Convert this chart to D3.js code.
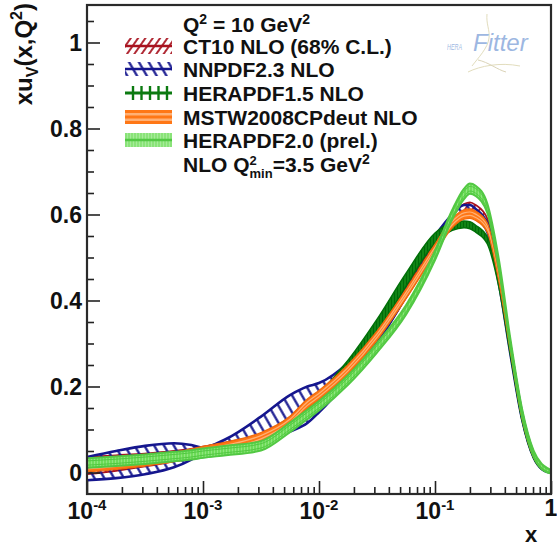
<!DOCTYPE html>
<html><head><meta charset="utf-8">
<script src="https://cdn.jsdelivr.net/npm/d3@7"></script>
<style>
body{margin:0;background:#fff;}
svg text{font-family:"Liberation Sans",Arial,Helvetica,sans-serif;font-weight:bold;fill:#111;}
</style></head><body>
<svg id="c" width="557" height="547"></svg>
<script>
// ---------------- data ----------------
const xValues = [0.0001, 0.000178, 0.000316, 0.000562, 0.000794, 0.001, 0.00158, 0.00316, 0.00562, 0.00794, 0.01, 0.0178, 0.0316, 0.0562, 0.1, 0.141, 0.178, 0.2, 0.224, 0.282, 0.355, 0.447, 0.562, 0.708, 0.832, 0.933, 1];

const ct10Mid = [0.016, 0.022, 0.029, 0.038, 0.045, 0.05, 0.06, 0.08, 0.118, 0.155, 0.175, 0.236, 0.315, 0.418, 0.525, 0.59, 0.612, 0.616, 0.61, 0.58, 0.46, 0.293, 0.135, 0.041, 0.011, 0.003, 0];
const ct10Err = [0.02, 0.018, 0.015, 0.012, 0.01, 0.01, 0.01, 0.01, 0.011, 0.012, 0.012, 0.012, 0.012, 0.012, 0.012, 0.012, 0.012, 0.012, 0.012, 0.011, 0.01, 0.008, 0.006, 0.004, 0.002, 0.001, 0];

const nnpdfMid = [0.009, 0.0185, 0.029, 0.04, 0.047, 0.052, 0.0625, 0.099, 0.1375, 0.1575, 0.174, 0.235, 0.315, 0.425, 0.5375, 0.59, 0.611, 0.611, 0.603, 0.57, 0.45, 0.285, 0.1325, 0.04, 0.011, 0.003, 0];
const nnpdfErr = [0.027, 0.0315, 0.033, 0.028, 0.017, 0.006, 0.0155, 0.031, 0.0425, 0.0425, 0.034, 0.02, 0.015, 0.015, 0.0125, 0.01, 0.011, 0.011, 0.01, 0.01, 0.01, 0.01, 0.0075, 0.005, 0.003, 0.002, 0];

const hera15Mid = [0.02, 0.024, 0.03, 0.036, 0.041, 0.045, 0.052, 0.072, 0.11, 0.145, 0.17, 0.245, 0.34, 0.448, 0.545, 0.572, 0.577, 0.575, 0.567, 0.54, 0.44, 0.28, 0.128, 0.037, 0.01, 0.003, 0];
const hera15Err = [0.01, 0.01, 0.01, 0.01, 0.01, 0.01, 0.01, 0.011, 0.012, 0.013, 0.014, 0.016, 0.016, 0.015, 0.012, 0.009, 0.008, 0.008, 0.008, 0.008, 0.008, 0.007, 0.006, 0.004, 0.003, 0.002, 0.001];

const mstwMid = [0.012, 0.018, 0.026, 0.036, 0.044, 0.05, 0.06, 0.082, 0.12, 0.16, 0.18, 0.24, 0.318, 0.415, 0.52, 0.58, 0.6, 0.602, 0.597, 0.57, 0.455, 0.29, 0.133, 0.04, 0.011, 0.003, 0];
const mstwErr = [0.011, 0.011, 0.011, 0.011, 0.011, 0.011, 0.011, 0.011, 0.011, 0.011, 0.011, 0.011, 0.011, 0.011, 0.011, 0.011, 0.011, 0.011, 0.011, 0.011, 0.01, 0.009, 0.007, 0.005, 0.003, 0.002, 0.001];

const hera20Mid = [0.022, 0.026, 0.031, 0.037, 0.041, 0.045, 0.051, 0.062, 0.105, 0.135, 0.155, 0.215, 0.29, 0.378, 0.505, 0.6, 0.648, 0.66, 0.655, 0.615, 0.485, 0.3, 0.14, 0.044, 0.014, 0.005, 0.002];
const hera20Err = [0.011, 0.011, 0.011, 0.011, 0.011, 0.011, 0.011, 0.011, 0.011, 0.011, 0.011, 0.011, 0.011, 0.011, 0.011, 0.011, 0.012, 0.012, 0.012, 0.011, 0.011, 0.01, 0.009, 0.007, 0.006, 0.005, 0.004];

const yTicks = [0, 0.2, 0.4, 0.6, 0.8, 1];
const yTickLabels = ["0", "0.2", "0.4", "0.6", "0.8", "1"];
const yMinorTicks = [0.05, 0.1, 0.15, 0.25, 0.3, 0.35, 0.45, 0.5, 0.55, 0.65, 0.7, 0.75, 0.85, 0.9, 0.95, 1.05];
const xDecades = [1e-4, 1e-3, 1e-2, 1e-1, 1];
const xDecadeExponents = ["-4", "-3", "-2", "-1", null];
const legendLabels = ["CT10 NLO (68% C.L.)", "NNPDF2.3 NLO", "HERAPDF1.5 NLO", "MSTW2008CPdeut NLO", "HERAPDF2.0 (prel.)"];

// ---------------- layout ----------------
const svg = d3.select("#c");
const P = {left: 87, right: 551, top: 5, bottom: 494};
const x = d3.scaleLog().domain([1e-4, 1]).range([P.left, P.right]);
const y = d3.scaleLinear().domain([-0.05, 1.0872]).range([P.bottom, P.top]);

const C = {
  red: "#a8121f", navy: "#15168e", dgreen: "#0b7a10", orange: "#ff7716",
  orangeLight: "#ffb075", lgreen: "#6ddc58", lgreenEdge: "#52c843", lgreenLight: "#8fe67f"
};

const defs = svg.append("defs");
function hatch(id, color, angle, spacing, width, bg) {
  const p = defs.append("pattern").attr("id", id).attr("patternUnits", "userSpaceOnUse")
    .attr("width", spacing).attr("height", spacing).attr("patternTransform", `rotate(${angle})`);
  if (bg) p.append("rect").attr("width", spacing).attr("height", spacing).attr("fill", bg);
  p.append("line").attr("x1", spacing / 2).attr("y1", 0).attr("x2", spacing / 2).attr("y2", spacing)
    .attr("stroke", color).attr("stroke-width", width);
}
hatch("hCT", C.red, 35, 6, 1.8, null);
hatch("hNN", C.navy, -30, 8.5, 2.2, null);
hatch("hH15", "#006a08", 0, 3, 1.4, "#148a18");
hatch("hH20", C.lgreenLight, 0, 3, 1, C.lgreen);

defs.append("clipPath").attr("id", "clip").append("rect")
  .attr("x", P.left).attr("y", P.top).attr("width", P.right - P.left).attr("height", P.bottom - P.top);

const g = svg.append("g").attr("clip-path", "url(#clip)");

function bandPath(mid, err, k) {
  return d3.area().x((d, i) => x(xValues[i]))
    .y0((d, i) => y(mid[i] - k * err[i])).y1((d, i) => y(mid[i] + k * err[i]))
    .curve(d3.curveMonotoneX)(mid);
}
function edgePath(mid, err, s) {
  return d3.line().x((d, i) => x(xValues[i])).y((d, i) => y(mid[i] + s * err[i]))
    .curve(d3.curveMonotoneX)(mid);
}

// CT10
g.append("path").attr("d", bandPath(ct10Mid, ct10Err, 1)).attr("fill", "url(#hCT)");
[-1, 1].forEach(s => g.append("path").attr("d", edgePath(ct10Mid, ct10Err, s)).attr("fill", "none").attr("stroke", C.red).attr("stroke-width", 1.8));
// NNPDF
g.append("path").attr("d", bandPath(nnpdfMid, nnpdfErr, 1)).attr("fill", "url(#hNN)");
[-1, 1].forEach(s => g.append("path").attr("d", edgePath(nnpdfMid, nnpdfErr, s)).attr("fill", "none").attr("stroke", C.navy).attr("stroke-width", 2.6));
// HERAPDF1.5
g.append("path").attr("d", bandPath(hera15Mid, hera15Err, 1)).attr("fill", "url(#hH15)");
[-1, 1].forEach(s => g.append("path").attr("d", edgePath(hera15Mid, hera15Err, s)).attr("fill", "none").attr("stroke", "#007008").attr("stroke-width", 1.5));
// MSTW
g.append("path").attr("d", bandPath(mstwMid, mstwErr, 1)).attr("fill", C.orange);
[-0.35, 0.35].forEach(s => g.append("path").attr("d", edgePath(mstwMid, mstwErr, s)).attr("fill", "none").attr("stroke", C.orangeLight).attr("stroke-width", 1.2));
[-1, 1].forEach(s => g.append("path").attr("d", edgePath(mstwMid, mstwErr, s)).attr("fill", "none").attr("stroke", "#f06a0c").attr("stroke-width", 1.2));
// HERAPDF2.0
g.append("path").attr("d", bandPath(hera20Mid, hera20Err, 1)).attr("fill", "url(#hH20)");
[-1, 1, -0.45, 0.45].forEach(s => g.append("path").attr("d", edgePath(hera20Mid, hera20Err, s)).attr("fill", "none").attr("stroke", C.lgreenEdge).attr("stroke-width", Math.abs(s) === 1 ? 2 : 1));

// ---------------- axes ----------------
const yAxis = svg.append("g").attr("transform", `translate(${P.left},0)`)
  .call(d3.axisLeft(y).tickValues(yTicks).tickSize(-13).tickPadding(5).tickFormat((d, i) => yTickLabels[i]));
yAxis.select(".domain").remove();
yAxis.selectAll("line").attr("stroke", "#222").attr("stroke-width", 1.6);
yAxis.selectAll("text").attr("font-size", 23).attr("fill", "#111").attr("dy", "0.36em")
  .style("font-family", "'Liberation Sans',Arial,sans-serif").style("font-weight", "bold");

const yMinor = svg.append("g").attr("transform", `translate(${P.left},0)`)
  .call(d3.axisLeft(y).tickValues(yMinorTicks).tickSize(-7).tickFormat(""));
yMinor.select(".domain").remove();
yMinor.selectAll("line").attr("stroke", "#222").attr("stroke-width", 1.6);

const xAxis = svg.append("g").attr("transform", `translate(0,${P.bottom})`)
  .call(d3.axisBottom(x).tickValues(xDecades).tickSize(-13).tickFormat(""));
xAxis.select(".domain").remove();
xAxis.selectAll("line").attr("stroke", "#222").attr("stroke-width", 1.6);

const xMinorVals = [];
xDecades.slice(0, 4).forEach(d => [2, 3, 4, 5, 6, 7, 8, 9].forEach(m => xMinorVals.push(d * m)));
const xMinor = svg.append("g").attr("transform", `translate(0,${P.bottom})`)
  .call(d3.axisBottom(x).tickValues(xMinorVals).tickSize(-7).tickFormat(""));
xMinor.select(".domain").remove();
xMinor.selectAll("line").attr("stroke", "#222").attr("stroke-width", 1.6);

// x tick labels
xDecades.forEach((d, i) => {
  const t = svg.append("text").attr("x", x(d)).attr("y", 519).attr("text-anchor", "middle").attr("font-size", 23);
  if (xDecadeExponents[i] === null) {
    t.attr("y", 516).text("1");
  } else {
    t.append("tspan").text("10");
    t.append("tspan").attr("dy", -9).attr("font-size", 15).text(xDecadeExponents[i]);
  }
});

// frame
svg.append("rect").attr("x", P.left).attr("y", P.top).attr("width", P.right - P.left).attr("height", P.bottom - P.top)
  .attr("fill", "none").attr("stroke", "#2a2a2a").attr("stroke-width", 2.2);

// axis titles
svg.append("text").attr("x", 531).attr("y", 542).attr("text-anchor", "middle").attr("font-size", 22).text("x");
const yt = svg.append("text").attr("transform", "translate(32,3) rotate(-90)").attr("text-anchor", "end").attr("font-size", 24);
yt.append("tspan").text("xu");
yt.append("tspan").attr("dy", 6).attr("font-size", 16).text("V");
yt.append("tspan").attr("dy", -6).text("(x,Q");
yt.append("tspan").attr("dy", -10).attr("font-size", 16).text("2");
yt.append("tspan").attr("dy", 10).text(")");

// ---------------- legend ----------------
const LX = 183, symX = 125, symW = 47;
const hdr = svg.append("text").attr("x", LX).attr("y", 32).attr("font-size", 21);
hdr.append("tspan").text("Q");
hdr.append("tspan").attr("dy", -8).attr("font-size", 14).text("2");
hdr.append("tspan").attr("dy", 8).text(" = 10 GeV");
hdr.append("tspan").attr("dy", -8).attr("font-size", 14).text("2");

const baselines = [54, 77, 101, 125, 148];
legendLabels.forEach((lab, i) => {
  svg.append("text").attr("x", LX).attr("y", baselines[i]).attr("font-size", 21).text(lab);
});
function sym(i) { return baselines[i] - 8; }
// CT10
(function () {
  const cy = sym(0);
  svg.append("rect").attr("x", symX).attr("y", cy - 8).attr("width", symW).attr("height", 16).attr("fill", "url(#hCT)");
  svg.append("line").attr("x1", symX).attr("x2", symX + symW).attr("y1", cy).attr("y2", cy).attr("stroke", C.red).attr("stroke-width", 2.5);
})();
// NNPDF
(function () {
  const cy = sym(1);
  svg.append("rect").attr("x", symX).attr("y", cy - 7).attr("width", symW).attr("height", 14).attr("fill", "url(#hNN)");
  svg.append("line").attr("x1", symX).attr("x2", symX + symW).attr("y1", cy).attr("y2", cy).attr("stroke", C.navy).attr("stroke-width", 2.6);
})();
// HERAPDF1.5
(function () {
  const cy = sym(2);
  d3.range(0, 5).forEach(k => svg.append("line").attr("x1", symX + 8 + k * 8.5).attr("x2", symX + 8 + k * 8.5)
    .attr("y1", cy - 7).attr("y2", cy + 7).attr("stroke", C.dgreen).attr("stroke-width", 2.4));
  svg.append("line").attr("x1", symX).attr("x2", symX + symW).attr("y1", cy).attr("y2", cy).attr("stroke", C.dgreen).attr("stroke-width", 2.8);
})();
// MSTW
(function () {
  const cy = sym(3);
  svg.append("rect").attr("x", symX).attr("y", cy - 7).attr("width", symW).attr("height", 14).attr("fill", C.orangeLight);
  [-5.5, 0, 5.5].forEach(o => svg.append("line").attr("x1", symX).attr("x2", symX + symW).attr("y1", cy + o).attr("y2", cy + o)
    .attr("stroke", C.orange).attr("stroke-width", 3));
})();
// HERAPDF2.0
(function () {
  const cy = sym(4);
  svg.append("rect").attr("x", symX).attr("y", cy - 7).attr("width", symW).attr("height", 14).attr("fill", "url(#hH20)").attr("opacity", 0.8);
  svg.append("line").attr("x1", symX).attr("x2", symX + symW).attr("y1", cy).attr("y2", cy).attr("stroke", C.lgreenEdge).attr("stroke-width", 2.5);
})();
// NLO Q2min line
const nlo = svg.append("text").attr("x", LX).attr("y", 172).attr("font-size", 21);
nlo.append("tspan").text("NLO Q");
nlo.append("tspan").attr("dy", -7).attr("font-size", 13).text("2");
nlo.append("tspan").attr("dx", -7.2).attr("dy", 13).attr("font-size", 13).text("min");
nlo.append("tspan").attr("dy", -6).text("=3.5 GeV");
nlo.append("tspan").attr("dy", -8).attr("font-size", 14).text("2");

// ---------------- HERAFitter logo ----------------
const logo = svg.append("g").attr("opacity", 0.75);
logo.append("path").attr("d", "M487,14 C486,24 490,30 489,38 C488,48 478,58 472,66")
  .attr("fill", "none").attr("stroke", "#d9d2a8").attr("stroke-width", 1);
logo.append("path").attr("d", "M468,72 C480,66 500,62 520,66").attr("fill", "none").attr("stroke", "#d9d2a8").attr("stroke-width", 1);
logo.append("path").attr("d", "M478,60 C488,62 498,70 506,72").attr("fill", "none").attr("stroke", "#cfc6a0").attr("stroke-width", 1);
logo.append("text").attr("x", 447).attr("y", 50).attr("font-size", 9).attr("textLength", 15).attr("lengthAdjust", "spacingAndGlyphs")
  .style("font-style", "italic").style("font-weight", "normal").style("fill", "#7d9fd8").text("HERA");
logo.append("text").attr("x", 473).attr("y", 51).attr("font-size", 24).style("font-style", "italic").style("font-weight", "normal")
  .style("fill", "#7d9fd8").text("Fitter");
</script>
</body></html>
